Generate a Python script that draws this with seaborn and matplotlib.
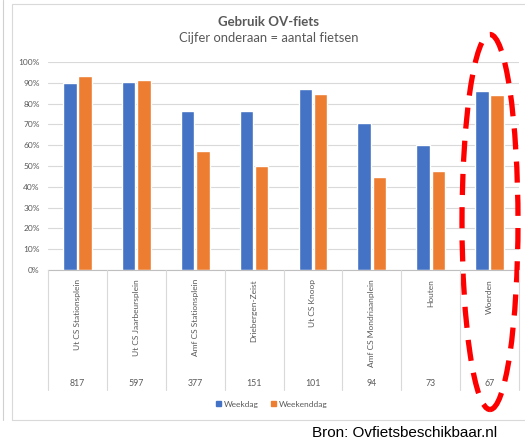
import pandas as pd
import numpy as np
import matplotlib.pyplot as plt
import matplotlib.transforms as mtransforms
from matplotlib.patches import Ellipse, Rectangle
from matplotlib.lines import Line2D
import seaborn as sns

##datos
locaties = ["Ut CS Stationsplein", "Ut CS Jaarbeursplein", "Amf CS Stationsplein",
            "Driebergen-Zeist", "Ut CS Knoop", "Amf CS Mondriaanplein", "Houten", "Woerden"]
aantal_fietsen = [817, 597, 377, 151, 101, 94, 73, 67]
weekdag = [0.90, 0.905, 0.765, 0.765, 0.87, 0.707, 0.60, 0.86]
weekenddag = [0.935, 0.915, 0.57, 0.50, 0.845, 0.447, 0.478, 0.84]
series = ["Weekdag", "Weekenddag"]
kleuren = ["#4472C4", "#ED7D31"]

data = pd.DataFrame({
    "locatie": locaties * 2,
    "gebruik": weekdag + weekenddag,
    "dag": [series[0]] * len(locaties) + [series[1]] * len(locaties),
})

sns.set_style("white")
plt.rcParams["font.family"] = ["Lato", "DejaVu Sans"]

W, H = 525, 441
fig = plt.figure(figsize=(W / 100, H / 100), dpi=100)

def fx(px):
    return px / W

def fy(py):
    return 1 - py / H

ax = fig.add_axes([fx(48), fy(270), fx(519) - fx(48), fy(62) - fy(270)])

sns.barplot(data=data, x="locatie", y="gebruik", hue="dag", palette=kleuren,
            width=0.52, gap=0.12, ax=ax, legend=False, saturation=1)

ax.set_ylim(0, 1.0)
ax.set_xlim(-0.5, len(locaties) - 0.5)
ax.set_yticks(np.arange(0, 1.01, 0.1))
ax.set_yticklabels([f"{int(round(v * 100))}%" for v in np.arange(0, 1.01, 0.1)],
                   fontsize=6, color="#595959")
ax.yaxis.grid(True, color="#D9D9D9", linewidth=0.8)
ax.set_axisbelow(True)
ax.set_xticks([])
ax.set_xlabel("")
ax.set_ylabel("")
ax.tick_params(axis="y", length=0, pad=6)
for s in ["left", "right", "top"]:
    ax.spines[s].set_visible(False)
ax.spines["bottom"].set_color("#BFBFBF")
ax.spines["bottom"].set_linewidth(0.8)

##etiquetas de categoria y numero de fietsen
trans = mtransforms.blended_transform_factory(ax.transData, fig.transFigure)
for i, (loc, n) in enumerate(zip(locaties, aantal_fietsen)):
    ax.text(i, fy(279), loc, rotation=90, ha="center", va="top", fontsize=6,
            color="#595959", transform=trans, clip_on=False)
    ax.text(i, fy(384), str(n), ha="center", va="center", fontsize=6.3,
            color="#595959", transform=trans, clip_on=False)
for i in range(len(locaties) + 1):
    fig.add_artist(Line2D([i - 0.5, i - 0.5], [fy(270), fy(390)], transform=trans,
                          color="#D9D9D9", linewidth=0.8))

##titulo
fig.text(fx(269), fy(22), "Gebruik OV-fiets", ha="center", va="center",
         fontsize=9.5, fontweight="bold", color="#595959")
fig.text(fx(269), fy(38), "Cijfer onderaan = aantal fietsen", ha="center",
         va="center", fontsize=9.4, color="#595959")

##leyenda
handles = [Rectangle((0, 0), 1, 1, color=c) for c in kleuren]
fig.legend(handles, series, loc="center", bbox_to_anchor=(fx(272), fy(404)),
           ncol=2, frameon=False, fontsize=6, handlelength=0.6, handleheight=0.6,
           handletextpad=0.3, columnspacing=1.5, labelcolor="#595959")

##marco exterior
fig.add_artist(Rectangle((fx(12), fy(420)), fx(530) - fx(12), fy(4) - fy(420),
                         transform=fig.transFigure, fill=False,
                         edgecolor="#D9D9D9", linewidth=0.8))
fig.add_artist(Line2D([fx(3), fx(3)], [fy(420), fy(0)], color="#D0D0D0", linewidth=0.8))

##elipse roja
fig.add_artist(Ellipse((fx(490), fy(222)), fx(56), 375 / H, transform=fig.transFigure,
                       fill=False, edgecolor="#FF0000", linewidth=3.8,
                       linestyle=(0, (4, 2.3))))

##fuente
fig.text(fx(497), fy(433), "Bron: Ovfietsbeschikbaar.nl", ha="right", va="center",
         fontsize=11, color="black", family=["Liberation Sans", "DejaVu Sans"])

fig.savefig("out.png", dpi=100)
